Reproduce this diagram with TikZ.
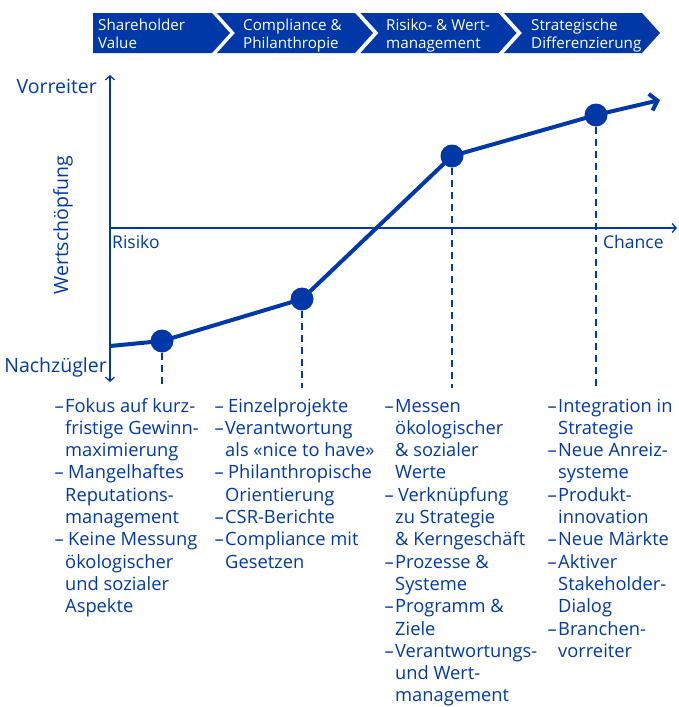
\documentclass[tikz,border=0pt]{standalone}
\usepackage{fontspec}
\setmainfont{Open Sans}
\usetikzlibrary{arrows.meta}
\definecolor{cblue}{RGB}{0,56,168}
\newcommand{\dsh}{\llap{–\kern1.5pt}}
\newcommand{\dss}{\llap{–\kern1.5pt}\kern3pt}
\newcommand{\colbox}[1]{\begin{tabular}[t]{@{}l@{}}#1\end{tabular}}
\begin{document}
\begin{tikzpicture}[x=1pt,y=-1pt,
  lbl/.style={text=cblue, inner sep=0pt, font=\fontsize{19.5}{22.3}\selectfont},
  small/.style={text=cblue, inner sep=0pt, anchor=base west, font=\fontsize{17.5}{19}\selectfont},
  bandtxt/.style={text=white, inner sep=0pt, anchor=base west, font=\fontsize{15.2}{18}\selectfont},
  coltxt/.style={text=cblue, inner sep=0pt, anchor=base west, font=\fontsize{18.3}{22.3}\selectfont},
  axis/.style={draw=cblue, line width=1.3pt},
  curve/.style={draw=cblue, line width=4pt, line join=round},
  dot/.style={circle, fill=cblue, minimum size=23pt, inner sep=0pt},
  guide/.style={draw=cblue, line width=1.2pt, dash pattern=on 7pt off 5pt},
]
\useasboundingbox (0,0) rectangle (678,707);
% banner
\fill[cblue] (93,13) -- (212,13) -- (230,33) -- (212,53) -- (93,53) -- cycle;
\foreach \L in {217,360.5,504}{
  \fill[cblue] (\L,13) -- (\L+138,13) -- (\L+156,33) -- (\L+138,53) -- (\L,53) -- (\L+18,33) -- cycle;
}
\node[bandtxt] (b1) at (98,30) {\colbox{Shareholder\\Value}};
\node[bandtxt] (b2) at (243,30) {\colbox{Compliance \&\\Philanthropie}};
\node[bandtxt] (b3) at (386,30) {\colbox{Risiko- \& Wert-\\management}};
\node[bandtxt] (b4) at (531,30) {\colbox{Strategische\\Differenzierung}};
% axes
\coordinate (ytop) at (110,75);
\coordinate (ybot) at (110,382);
\coordinate (orig) at (110,228);
\coordinate (xend) at (677,228);
\draw[axis, {Straight Barb[length=4pt,width=9pt]}-{Straight Barb[length=4pt,width=9pt]}] (ybot) -- (ytop);
\draw[axis, -{Straight Barb[length=4pt,width=9pt]}] (orig) -- (xend);
\node[lbl, anchor=base east] (vor) at (97,93) {Vorreiter};
\node[lbl, anchor=base east] (nach) at (107,372) {Nachzügler};
\node[lbl, rotate=90] (ws) at (63,225) {Wertschöpfung};
\node[small] (ris) at (112,248) {Risiko};
\node[small] (cha) at (603,248) {Chance};
% curve
\coordinate (c0) at (110,346);
\coordinate (q1) at (162,341);
\coordinate (q2) at (302,299);
\coordinate (q3) at (452,156);
\coordinate (q4) at (596,115);
\coordinate (cend) at (660,100);
\coordinate (gb) at (0,388);
\draw[curve, -{Straight Barb[length=7pt,width=17pt]}] (c0) -- (q1) -- (q2) -- (q3) -- (q4) -- (cend);
\foreach \i in {1,2,3,4}{
  \node[dot] (p\i) at (q\i) {};
  \draw[guide] (p\i.south) -- (p\i |- gb);
}
% columns
\node[coltxt] (t1) at (65,412) {\colbox{\dsh Fokus auf kurz-\\fristige Gewinn-\\maximierung\\\dss Mangelhaftes\\Reputations-\\management\\\dss Keine Messung\\ökologischer\\und sozialer\\Aspekte}};
\node[coltxt] (t2) at (225,412) {\colbox{\dss Einzelprojekte\\\dsh Verantwortung\\als «nice to have»\\\dss Philanthropische\\Orientierung\\\dsh CSR-Berichte\\\dsh Compliance mit\\Gesetzen}};
\node[coltxt] (t3) at (395,412) {\colbox{\dsh Messen\\ökologischer\\\& sozialer\\Werte\\\dss Verknüpfung\\zu Strategie\\\& Kerngeschäft\\\dsh Prozesse \&\\Systeme\\\dsh Programm \&\\Ziele\\\dsh Verantwortungs-\\und Wert-\\management}};
\node[coltxt] (t4) at (558,412) {\colbox{\dsh Integration in\\Strategie\\\dsh Neue Anreiz-\\systeme\\\dsh Produkt-\\innovation\\\dsh Neue Märkte\\\dsh Aktiver\\Stakeholder-\\Dialog\\\dsh Branchen-\\vorreiter}};
\end{tikzpicture}
\end{document}
